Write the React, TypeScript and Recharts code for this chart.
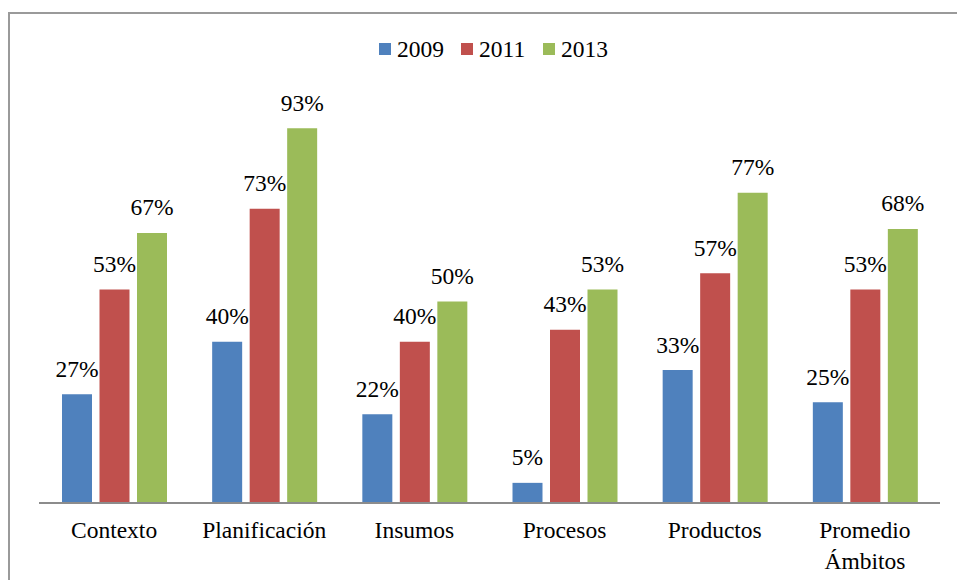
import React from 'react';
import { BarChart, Bar, XAxis, YAxis, LabelList } from 'recharts';

const categories = ['Contexto', 'Planificación', 'Insumos', 'Procesos', 'Productos', 'Promedio\nÁmbitos'];
const series2009 = [27, 40, 22, 5, 33, 25];
const series2011 = [53, 73, 40, 43, 57, 53];
const series2013 = [67, 93, 50, 53, 77, 68];
const seriesNames = ['2009', '2011', '2013'];
const seriesColors = ['#4F81BD', '#C0504D', '#9BBB59'];

const FONT = "'Liberation Serif', 'Times New Roman', Times, 'DejaVu Serif', serif";
const FONT_SIZE = 23.5;
const textStyle = { fontFamily: FONT, fontSize: FONT_SIZE };

const data = categories.map((name, i) => ({
  name,
  s2009: series2009[i],
  s2011: series2011[i],
  s2013: series2013[i],
}));
const keys = ['s2009', 's2011', 's2013'];

const CategoryTick = (props: any) => {
  const { x, y, payload } = props;
  const lines = String(payload.value).split('\n');
  return (
    <text x={x} y={y} textAnchor="middle" style={textStyle} fill="#000">
      {lines.map((ln, i) => (
        <tspan key={i} x={x} y={y + 35 + i * 31}>{ln}</tspan>
      ))}
    </text>
  );
};

const ValueLabel = (props: any) => {
  const { x, y, width, value } = props;
  return (
    <text x={x + width / 2} y={y - 17.5} textAnchor="middle" style={textStyle} fill="#000">
      {value}%
    </text>
  );
};

export default function App() {
  return (
    <div style={{ position: 'absolute', left: 0, top: 0, width: 957, height: 580, overflow: 'hidden', background: '#fff', fontFamily: FONT }}>
      {/* chart frame */}
      <div style={{ position: 'absolute', left: 8, top: 12, width: 1000, height: 700, border: '2px solid #9a9a9a', boxSizing: 'border-box' }} />

      <svg width={957} height={80} style={{ position: 'absolute', left: 0, top: 0 }}>
        {seriesNames.map((nm, i) => (
          <g key={nm}>
            <rect x={379 + i * 82} y={43} width={12} height={12} fill={seriesColors[i]} />
            <text x={397 + i * 82} y={57} style={textStyle} fill="#000">{nm}</text>
          </g>
        ))}
      </svg>

      <div style={{ position: 'absolute', left: 0, top: 0 }}>
        <BarChart
          width={957}
          height={580}
          data={data}
          margin={{ top: 100, right: 17, bottom: 0, left: 39 }}
          barSize={30}
          barGap={7.5}
        >
          <YAxis hide domain={[0, 100]} />
          <XAxis
            dataKey="name"
            height={77}
            tickLine={false}
            tickSize={0}
            tickMargin={0}
            axisLine={{ stroke: '#8c8c8c', strokeWidth: 2 }}
            tick={<CategoryTick />}
            interval={0}
          />
          {keys.map((k, i) => (
            <Bar key={k} dataKey={k} name={seriesNames[i]} fill={seriesColors[i]} isAnimationActive={false}>
              <LabelList dataKey={k} content={<ValueLabel />} />
            </Bar>
          ))}
        </BarChart>
      </div>
    </div>
  );
}
